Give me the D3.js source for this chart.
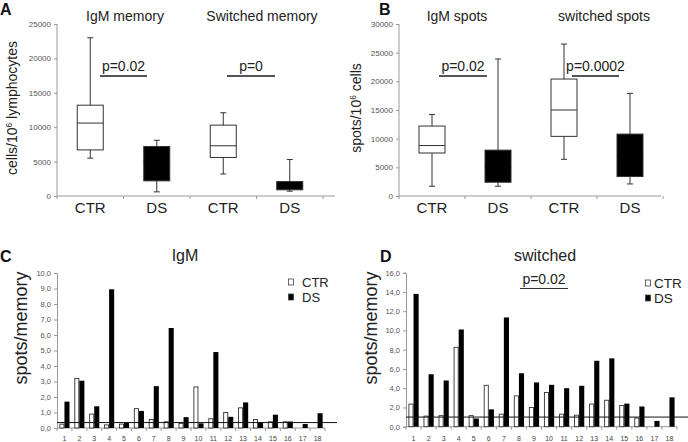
<!DOCTYPE html>
<html>
<head>
<meta charset="utf-8">
<script src="https://cdn.jsdelivr.net/npm/d3@7"></script>
<style>
  body { margin: 0; background: #fff; }
  svg { font-family: Arial, "Liberation Sans", sans-serif; }
  .tk text { font-size: 8px; fill: #555; }
  .tk path, .tk line { stroke: #999; }
</style>
</head>
<body>
<div id="chart"></div>
<script>
// box plot groups (A and B)
var boxCats = ["CTR", "DS", "CTR", "DS"];
var memMin = [5500, 600, 3200, 700];
var memQ1  = [6700, 2200, 5600, 900];
var memMed = [10600, 5000, 7300, 1500];
var memQ3  = [13200, 7200, 10300, 2100];
var memMax = [23000, 8100, 12100, 5300];

var spotMin = [1700, 1700, 6400, 2100];
var spotQ1  = [7500, 2400, 10400, 3400];
var spotMed = [8800, 5000, 15000, 7000];
var spotQ3  = [12200, 8000, 20400, 10800];
var spotMax = [14200, 23900, 26500, 17900];

// per donor ratios (C and D)
var donors = ["1","2","3","4","5","6","7","8","9","10","11","12","13","14","15","16","17","18"];
var igmCTR = [0.25, 3.2, 0.9, 0.2, 0.25, 1.25, 0.55, 0.4, 0.3, 2.65, 0.6, 1.0, 1.3, 0.55, 0.4, 0.4, 0, 0];
var igmDS  = [1.7, 3.05, 1.4, 8.95, 0.35, 1.1, 2.7, 6.45, 0.7, 0.3, 4.9, 0.72, 1.65, 0.38, 0.86, 0.42, 0.26, 0.95];
var swCTR  = [2.35, 1.1, 1.15, 8.25, 1.15, 4.3, 1.3, 3.2, 2.0, 3.55, 1.3, 1.2, 2.35, 2.75, 2.2, 0.9, 0, 0];
var swDS   = [13.8, 5.45, 4.8, 10.1, 0.85, 1.8, 11.35, 5.55, 4.6, 4.35, 4.0, 4.25, 6.85, 7.1, 2.4, 2.1, 0.6, 3.05];

var svg = d3.select("#chart").append("svg")
    .attr("width", 688)
    .attr("height", 442);

var ink = "#222";

function letter(t, x, y) {
    svg.append("text").attr("x", x).attr("y", y)
        .style("font-size", "16px").style("font-weight", "bold").style("fill", "#111")
        .text(t);
}

function ylabel(x, y, size, main, sup, rest) {
    var t = svg.append("text")
        .attr("transform", "translate(" + x + "," + y + ") rotate(-90)")
        .attr("text-anchor", "middle")
        .style("font-size", size + "px").style("fill", ink);
    t.append("tspan").text(main);
    if (sup) {
        t.append("tspan").attr("dy", -5).style("font-size", (size * 0.6) + "px").text(sup);
        t.append("tspan").attr("dy", 5).text(rest);
    }
}

function pLine(txt, x1, x2, ty, ly) {
    svg.append("text").attr("x", (x1 + x2) / 2).attr("y", ty)
        .attr("text-anchor", "middle").style("font-size", "14px").style("fill", ink)
        .text(txt);
    svg.append("line").attr("x1", x1).attr("x2", x2).attr("y1", ly).attr("y2", ly)
        .style("stroke", "#555").style("stroke-width", 2);
}

function boxPanel(opt) {
    var x = d3.scaleBand().domain(d3.range(4)).range(opt.xr);
    var y = d3.scaleLinear().domain([0, opt.ymax]).range([196, 24]);
    var g = svg.append("g");

    g.append("g").attr("class", "tk")
        .attr("transform", "translate(" + opt.xr[0] + ",0)")
        .call(d3.axisLeft(y).tickValues(d3.range(0, opt.ymax + 1, 5000)).tickSize(3).tickFormat(d3.format("d")))
        .call(function (a) { a.select(".domain").attr("d", "M0," + y(0) + "V" + y(opt.ymax)); });

    g.append("line").attr("x1", opt.xr[0]).attr("x2", opt.xend)
        .attr("y1", y(0)).attr("y2", y(0)).style("stroke", "#999");
    g.selectAll(".xt").data(d3.range(5)).enter().append("line")
        .attr("x1", function (i) { return opt.xr[0] + i * x.step(); })
        .attr("x2", function (i) { return opt.xr[0] + i * x.step(); })
        .attr("y1", y(0)).attr("y2", y(0) + 3).style("stroke", "#999");

    g.selectAll(".cat").data(boxCats).enter().append("text")
        .attr("x", function (d, i) { return x(i) + x.bandwidth() / 2; })
        .attr("y", 213).attr("text-anchor", "middle")
        .style("font-size", "15px").style("fill", ink)
        .text(function (d) { return d; });

    var bw = 26, cw = 6;
    var b = g.selectAll(".box").data(d3.range(4)).enter().append("g");
    var cx = function (i) { return x(i) + x.bandwidth() / 2; };
    b.append("line")
        .attr("x1", cx).attr("x2", cx)
        .attr("y1", function (i) { return y(opt.max[i]); })
        .attr("y2", function (i) { return y(opt.min[i]); })
        .style("stroke", "#333");
    b.append("line")
        .attr("x1", function (i) { return cx(i) - cw / 2; })
        .attr("x2", function (i) { return cx(i) + cw / 2; })
        .attr("y1", function (i) { return y(opt.max[i]); })
        .attr("y2", function (i) { return y(opt.max[i]); })
        .style("stroke", "#333");
    b.append("line")
        .attr("x1", function (i) { return cx(i) - cw / 2; })
        .attr("x2", function (i) { return cx(i) + cw / 2; })
        .attr("y1", function (i) { return y(opt.min[i]); })
        .attr("y2", function (i) { return y(opt.min[i]); })
        .style("stroke", "#333");
    b.append("rect")
        .attr("x", function (i) { return cx(i) - bw / 2; })
        .attr("width", bw)
        .attr("y", function (i) { return y(opt.q3[i]); })
        .attr("height", function (i) { return y(opt.q1[i]) - y(opt.q3[i]); })
        .style("fill", function (i) { return boxCats[i] == "DS" ? "#000" : "#fff"; })
        .style("stroke", "#333");
    b.append("line")
        .attr("x1", function (i) { return cx(i) - bw / 2; })
        .attr("x2", function (i) { return cx(i) + bw / 2; })
        .attr("y1", function (i) { return y(opt.med[i]); })
        .attr("y2", function (i) { return y(opt.med[i]); })
        .style("stroke", function (i) { return boxCats[i] == "DS" ? "#000" : "#333"; });

    opt.titles.forEach(function (t) {
        svg.append("text").attr("x", t[1]).attr("y", 21).attr("text-anchor", "middle")
            .style("font-size", "14px").style("fill", ink).text(t[0]);
    });
}

function barPanel(opt) {
    var x0 = d3.scaleBand().domain(donors).range(opt.xr).paddingInner(0.32).paddingOuter(0.16);
    var x1 = d3.scaleBand().domain(["CTR", "DS"]).range([0, x0.bandwidth()]);
    var y = d3.scaleLinear().domain([0, opt.ymax]).range(opt.yr);
    var fmt = function (v) { return d3.format(".1f")(v).replace(".", ","); };

    svg.append("g").attr("class", "tk")
        .attr("transform", "translate(" + opt.xr[0] + ",0)")
        .call(d3.axisLeft(y).ticks(opt.ymax / opt.step).tickSize(3).tickFormat(fmt))
        .call(function (a) { a.selectAll("text").style("font-size", "7.5px"); });

    svg.append("line").attr("x1", opt.xr[0]).attr("x2", opt.xr[1])
        .attr("y1", y(0)).attr("y2", y(0)).style("stroke", "#999");
    svg.selectAll(null).data(d3.range(19)).enter().append("line")
        .attr("x1", function (i) { return opt.xr[0] + i * x0.step(); })
        .attr("x2", function (i) { return opt.xr[0] + i * x0.step(); })
        .attr("y1", y(0)).attr("y2", y(0) + 3).style("stroke", "#999");
    svg.selectAll(null).data(donors).enter().append("text")
        .attr("x", function (d) { return x0(d) + x0.bandwidth() / 2; })
        .attr("y", 441).attr("text-anchor", "middle")
        .style("font-size", "7px").style("fill", "#444")
        .text(function (d) { return d; });

    var rows = donors.map(function (d, i) { return { d: d, ctr: opt.ctr[i], ds: opt.ds[i] }; });
    var g = svg.selectAll(null).data(rows).enter().append("g")
        .attr("transform", function (r) { return "translate(" + x0(r.d) + ",0)"; });
    g.filter(function (r) { return r.ctr > 0; }).append("rect")
        .attr("x", x1("CTR") + 0.5).attr("width", x1.bandwidth() - 1)
        .attr("y", function (r) { return y(r.ctr); })
        .attr("height", function (r) { return y(0) - y(r.ctr); })
        .style("fill", "#fff").style("stroke", "#333").style("stroke-width", 0.9);
    g.append("rect")
        .attr("x", x1("DS")).attr("width", x1.bandwidth())
        .attr("y", function (r) { return y(r.ds); })
        .attr("height", function (r) { return y(0) - y(r.ds); })
        .style("fill", "#000");

    svg.append("line").attr("x1", opt.xr[0]).attr("x2", opt.refEnd)
        .attr("y1", y(opt.ref)).attr("y2", y(opt.ref))
        .style("stroke", "#111").style("stroke-width", 1);

    svg.append("text").attr("x", opt.title[1]).attr("y", 261).attr("text-anchor", "middle")
        .style("font-size", "16px").style("fill", ink).text(opt.title[0]);

    var leg = svg.append("g").attr("transform", "translate(" + opt.leg[0] + "," + opt.leg[1] + ")");
    [["CTR", "#fff"], ["DS", "#000"]].forEach(function (l, i) {
        leg.append("rect").attr("x", 0.5).attr("y", i * 15 - 3).attr("width", 5).attr("height", 6)
            .style("fill", l[1]).style("stroke", "#444").style("stroke-width", 0.8);
        leg.append("text").attr("x", opt.legGap).attr("y", i * 15).attr("dy", "0.35em")
            .style("font-size", opt.legSize + "px").style("fill", ink).text(l[0]);
    });
}

// A
letter("A", 0, 15);
ylabel(17, 108, 14, "cells/10", "6", " lymphocytes");
boxPanel({ xr: [57, 323], xend: 335, ymax: 25000,
    min: memMin, q1: memQ1, med: memMed, q3: memQ3, max: memMax,
    titles: [["IgM memory", 125], ["Switched memory", 262]] });
pLine("p=0.02", 100, 147, 71, 76);
pLine("p=0", 227, 275, 71, 76);

// B
letter("B", 379, 15);
ylabel(361, 108, 14, "spots/10", "6", " cells");
boxPanel({ xr: [399, 663], xend: 661, ymax: 30000,
    min: spotMin, q1: spotQ1, med: spotMed, q3: spotQ3, max: spotMax,
    titles: [["IgM spots", 457], ["switched spots", 604]] });
pLine("p=0.02", 439, 487, 71, 76);
pLine("p=0.0002", 572, 619, 71, 76);

// C
letter("C", 0, 262);
ylabel(27, 328, 18, "spots/memory");
barPanel({ xr: [57, 325], yr: [428, 273], ymax: 10, step: 1, ctr: igmCTR, ds: igmDS,
    ref: 0.35, refEnd: 337, title: ["IgM", 185], leg: [288, 282], legSize: 13, legGap: 14 });

// D
letter("D", 380, 262);
ylabel(377, 328, 18, "spots/memory");
barPanel({ xr: [406, 677], yr: [426.7, 272.7], ymax: 16, step: 2, ctr: swCTR, ds: swDS,
    ref: 1.0, refEnd: 688, title: ["switched", 545], leg: [645, 283], legSize: 13.5, legGap: 9 });
svg.append("text").attr("x", 544).attr("y", 284).attr("text-anchor", "middle")
    .style("font-size", "14px").style("fill", ink).text("p=0.02");
svg.append("line").attr("x1", 520).attr("x2", 568).attr("y1", 288.5).attr("y2", 288.5)
    .style("stroke", "#333").style("stroke-width", 1);
</script>
</body>
</html>
